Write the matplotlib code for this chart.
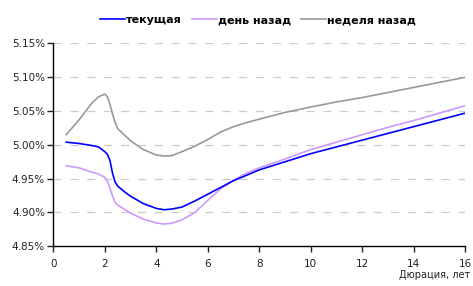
import matplotlib
matplotlib.use("Agg")
import matplotlib.pyplot as plt
from matplotlib.ticker import FuncFormatter

duration = [0.5, 1.0, 1.5, 1.75, 2.0, 2.1, 2.2, 2.3, 2.4, 2.5, 2.75, 3.0, 3.5, 4.0, 4.3, 4.6,
            5.0, 5.5, 6.0, 6.5, 7.0, 7.5, 8.0, 9.0, 10.0, 11.0, 12.0, 13.0, 14.0, 15.0, 16.0]

current = [5.004, 5.002, 4.999, 4.997, 4.990, 4.986, 4.977, 4.958, 4.945, 4.939, 4.931, 4.924,
           4.913, 4.906, 4.904, 4.905, 4.908, 4.917, 4.927, 4.937, 4.947, 4.955, 4.963, 4.975,
           4.987, 4.997, 5.007, 5.017, 5.027, 5.037, 5.047]

day_ago = [4.969, 4.966, 4.9595, 4.957, 4.952, 4.946, 4.936, 4.924, 4.915, 4.911, 4.905, 4.899,
           4.890, 4.8845, 4.8828, 4.884, 4.889, 4.900, 4.918, 4.935, 4.948, 4.958, 4.966, 4.979,
           4.993, 5.004, 5.015, 5.026, 5.036, 5.047, 5.058]

week_ago = [5.015, 5.037, 5.062, 5.071, 5.075, 5.071, 5.060, 5.046, 5.033, 5.024, 5.015, 5.006,
            4.993, 4.985, 4.9835, 4.984, 4.990, 4.998, 5.008, 5.019, 5.027, 5.033, 5.038, 5.048,
            5.056, 5.0635, 5.070, 5.0775, 5.085, 5.0925, 5.100]

labels = ["текущая", "день назад", "неделя назад"]
xticks = [0, 2, 4, 6, 8, 10, 12, 14, 16]
yticks = [4.85, 4.90, 4.95, 5.00, 5.05, 5.10, 5.15]

plt.rcParams['font.family'] = ['DejaVu Sans']

fig = plt.figure(figsize=(4.73, 2.86), dpi=100)
ax = fig.add_axes([0.1127, 0.139, 0.871, 0.709])

ax.plot(duration, current, color="#0000FF", lw=1.2, label=labels[0], zorder=3)
ax.plot(duration, day_ago, color="#CC99FF", lw=1.2, label=labels[1], zorder=2)
ax.plot(duration, week_ago, color="#999999", lw=1.2, label=labels[2], zorder=2)

ax.set_xlim(0, 16)
ax.set_ylim(4.85, 5.15)
ax.set_xticks(xticks)
ax.set_yticks(yticks)
ax.yaxis.set_major_formatter(FuncFormatter(lambda v, p: f"{v:.2f}%"))

for v in yticks[1:]:
    ax.axhline(v, color="#CCCCCC", lw=0.9, ls=(0, (6.5, 7)), zorder=1)

for s in ["top", "right"]:
    ax.spines[s].set_visible(False)
ax.spines["left"].set_linewidth(1.0)
ax.spines["bottom"].set_linewidth(1.0)
ax.tick_params(axis="both", labelsize=7.5, colors="#222222", length=4, width=1.0, direction="out")
ax.tick_params(axis="x", pad=5)
ax.tick_params(axis="y", pad=2)

fig.text(0.994, 0.02, "Дюрация, лет", ha="right", va="bottom", fontsize=7, color="#222222")

leg = fig.legend(loc="center", bbox_to_anchor=(0.546, 0.93), ncol=3, frameon=False,
                 prop={"weight": "bold", "size": 8}, handlelength=2.2, handletextpad=0.15,
                 columnspacing=0.9)

fig.savefig("out.png", dpi=100)
